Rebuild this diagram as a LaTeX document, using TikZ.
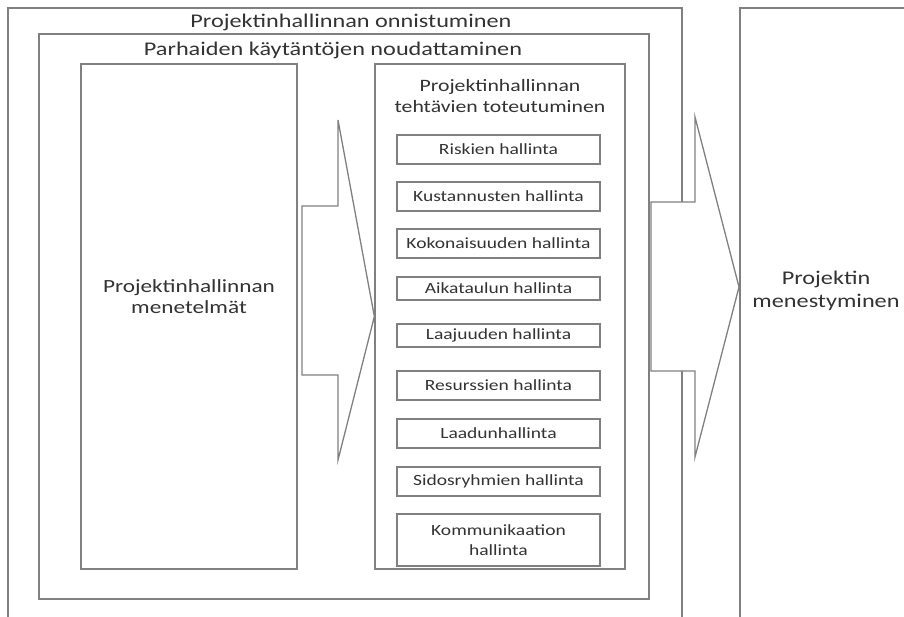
\documentclass[tikz,border=0pt]{standalone}
\usepackage{fontspec}
\setmainfont{Carlito}[FakeStretch=1.25]
\definecolor{linegray}{HTML}{808080}
\definecolor{textgray}{HTML}{333333}
\tikzset{
  frame/.style={draw=linegray, line width=1.3pt},
  box/.style={frame, rectangle, inner sep=0pt},
  taskbox/.style={box, minimum width=203pt, align=center, font=\fontsize{15.6}{20}\selectfont, text=textgray},
  bigtext/.style={align=center, inner sep=0pt, text=textgray, font=\fontsize{19.4}{23}\selectfont},
  lefttext/.style={align=center, inner sep=0pt, text=textgray, font=\fontsize{18.6}{21}\selectfont},
  midtext/.style={align=center, inner sep=0pt, text=textgray, font=\fontsize{17.4}{21}\selectfont},
  blockarrow/.style={frame, fill=white, line join=miter}
}
\begin{document}
\begin{tikzpicture}[x=1pt,y=-1pt]
\useasboundingbox (0,0) rectangle (904,617);
% outer frames
\draw[frame] (8,617) -- (8,8) -- (682,8) -- (682,617);
\draw[frame] (904,8) -- (740,8) -- (740,617);
\node[box, minimum width=610pt, minimum height=565pt] (best) at (344,316.5) {};
\node[box, minimum width=216pt, minimum height=505pt] (methods) at (189,316.5) {};
\node[box, minimum width=250pt, minimum height=505pt] (tasks) at (500,316.5) {};
% headers
\node[bigtext] (t1) at (351,22) {Projektinhallinnan onnistuminen};
\node[bigtext] (t2) at (333,50) {Parhaiden käytäntöjen noudattaminen};
\node[midtext] (t3) at (500,96.5) {Projektinhallinnan\\tehtävien toteutuminen};
\node[lefttext] (t4) at (189,297) {Projektinhallinnan\\menetelmät};
\node[bigtext] (t5) at (826,291) {Projektin\\menestyminen};
% task boxes
\node[taskbox, minimum height=29pt] (b1) at (498.5,149.5) {Riskien hallinta};
\node[taskbox, minimum height=29pt] (b2) at (498.5,196.5) {Kustannusten hallinta};
\node[taskbox, minimum height=29pt] (b3) at (498.5,243.5) {Kokonaisuuden hallinta};
\node[taskbox, minimum height=23pt] (b4) at (498.5,288.5) {Aikataulun hallinta};
\node[taskbox, minimum height=23pt] (b5) at (498.5,335.5) {Laajuuden hallinta};
\node[taskbox, minimum height=29pt] (b6) at (498.5,385.5) {Resurssien hallinta};
\node[taskbox, minimum height=29pt] (b7) at (498.5,433.5) {Laadunhallinta};
\node[taskbox, minimum height=29pt] (b8) at (498.5,481.5) {Sidosryhmien hallinta};
\node[taskbox, minimum height=52pt] (b9) at (498.5,540) {Kommunikaation\\hallinta};
% block arrows
\coordinate (a1tip) at (tasks.west);
\draw[blockarrow] (302,206) -- (338,206) -- (338,120) -- (a1tip) -- (338,460) -- (338,375) -- (302,375) -- cycle;
\coordinate (a2tip) at (739,287);
\draw[blockarrow] (651,202) -- (695,202) -- (695,117) -- (a2tip) -- (695,457) -- (695,371) -- (651,371) -- cycle;
\end{tikzpicture}
\end{document}
